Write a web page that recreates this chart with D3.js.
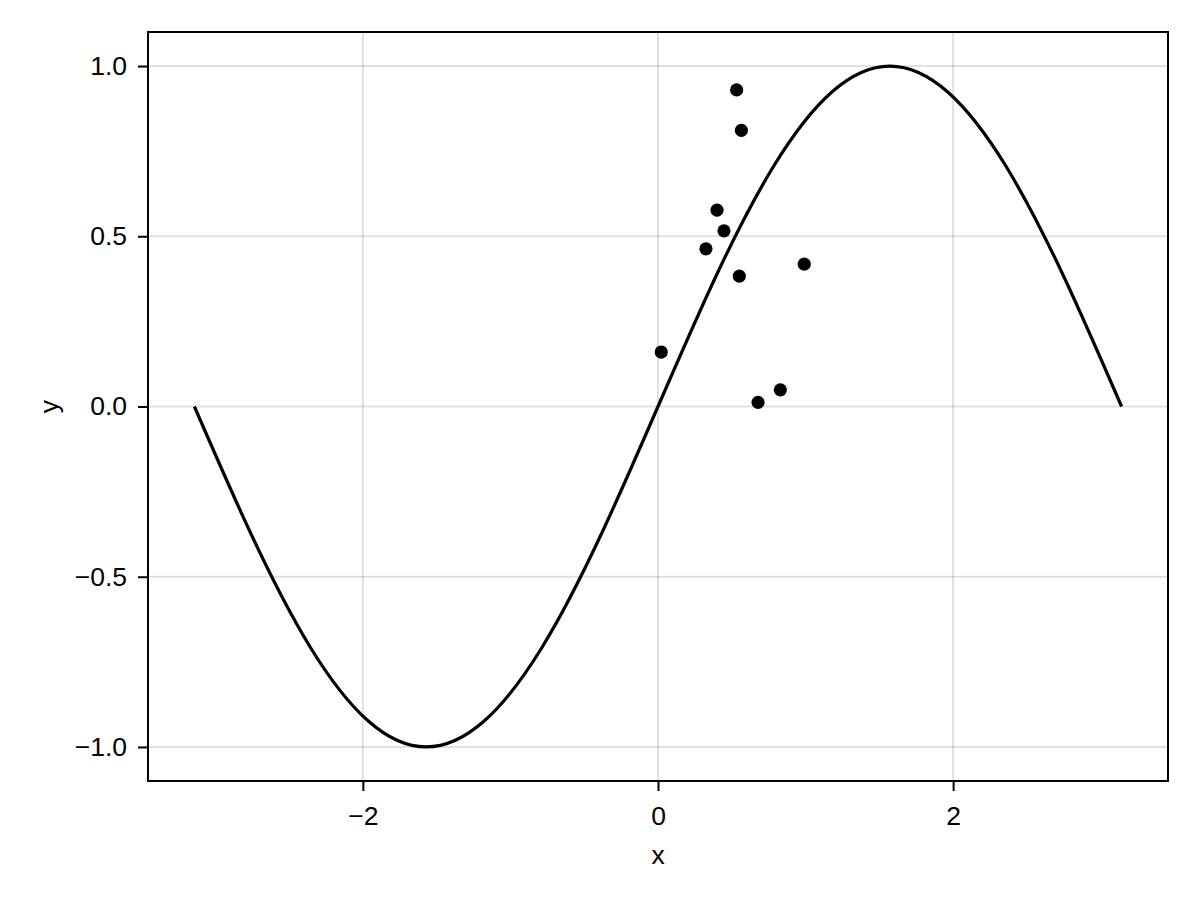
<!DOCTYPE html>
<html>
<head>
<meta charset="utf-8">
<script src="https://cdn.jsdelivr.net/npm/d3@7"></script>
<style>
  html, body { margin: 0; padding: 0; background: #fff; }
  svg { display: block; }
  text { font-family: "Liberation Sans", Arial, Helvetica, sans-serif; fill: #000; }
</style>
</head>
<body>
<svg id="chart" width="1200" height="900"></svg>
<script>
// Curve samples
const curveX = [-3.1416, -2.7489, -2.3562, -1.9635, -1.5708, -1.1781, -0.7854, -0.3927, 0,
                0.3927, 0.7854, 1.1781, 1.5708, 1.9635, 2.3562, 2.7489, 3.1416];
const curveY = [0, -0.3827, -0.7071, -0.9239, -1, -0.9239, -0.7071, -0.3827, 0,
                0.3827, 0.7071, 0.9239, 1, 0.9239, 0.7071, 0.3827, 0];
// Scatter points
const pointsX = [0.533, 0.565, 0.400, 0.447, 0.325, 0.551, 0.991, 0.022, 0.829, 0.678];
const pointsY = [0.930, 0.811, 0.577, 0.516, 0.463, 0.383, 0.418, 0.160, 0.049, 0.012];
// Ticks
const xTicks = [-2, 0, 2];
const xTickLabels = ["−2", "0", "2"];
const yTicks = [-1, -0.5, 0, 0.5, 1];
const yTickLabels = ["−1.0", "−0.5", "0.0", "0.5", "1.0"];
const xLabel = "x";
const yLabel = "y";

const svg = d3.select("#chart");
const L = 148, R = 1168, T = 32, B = 781;
const FS = 26.5;
const x = d3.scaleLinear().domain([-3.456, 3.456]).range([L, R]);
const y = d3.scaleLinear().domain([-1.1, 1.1]).range([B, T]);

const gridColor = "rgba(0,0,0,0.12)";
// grid
svg.append("g").selectAll("line").data(xTicks).join("line")
  .attr("x1", d => x(d)).attr("x2", d => x(d)).attr("y1", T).attr("y2", B)
  .attr("stroke", gridColor).attr("stroke-width", 2);
svg.append("g").selectAll("line").data(yTicks).join("line")
  .attr("x1", L).attr("x2", R).attr("y1", d => y(d)).attr("y2", d => y(d))
  .attr("stroke", gridColor).attr("stroke-width", 2);

// curve
const pts = curveX.map((v, i) => [v, curveY[i]]);
svg.append("path").datum(pts)
  .attr("d", d3.line().x(d => x(d[0])).y(d => y(d[1])).curve(d3.curveNatural))
  .attr("fill", "none").attr("stroke", "#000").attr("stroke-width", 3.2);

// points
svg.append("g").selectAll("circle").data(pointsX.map((v, i) => [v, pointsY[i]])).join("circle")
  .attr("cx", d => x(d[0])).attr("cy", d => y(d[1])).attr("r", 6.6).attr("fill", "#000");

// axes
const xAxis = d3.axisBottom(x).tickValues(xTicks).tickFormat((d, i) => xTickLabels[i])
  .tickSizeInner(10).tickSizeOuter(0).tickPadding(15);
const gx = svg.append("g").attr("transform", `translate(0,${B})`).call(xAxis);
gx.select(".domain").remove();
gx.selectAll(".tick line").attr("stroke", "#000").attr("stroke-width", 2);
gx.selectAll(".tick text").attr("font-size", FS).attr("font-family", null);

const yAxis = d3.axisLeft(y).tickValues(yTicks).tickFormat((d, i) => yTickLabels[i])
  .tickSizeInner(10).tickSizeOuter(0).tickPadding(11);
const gy = svg.append("g").attr("transform", `translate(${L},0)`).call(yAxis);
gy.select(".domain").remove();
gy.selectAll(".tick line").attr("stroke", "#000").attr("stroke-width", 2);
gy.selectAll(".tick text").attr("font-size", FS).attr("font-family", null);

// frame
svg.append("rect").attr("x", L).attr("y", T).attr("width", R - L).attr("height", B - T)
  .attr("fill", "none").attr("stroke", "#000").attr("stroke-width", 2);

// labels
svg.append("text").attr("x", (L + R) / 2).attr("y", 864).attr("text-anchor", "middle")
  .attr("font-size", FS).text(xLabel);
svg.append("text").attr("transform", `translate(58,${(T + B) / 2}) rotate(-90)`)
  .attr("text-anchor", "middle").attr("font-size", FS).text(yLabel);
</script>
</body>
</html>
